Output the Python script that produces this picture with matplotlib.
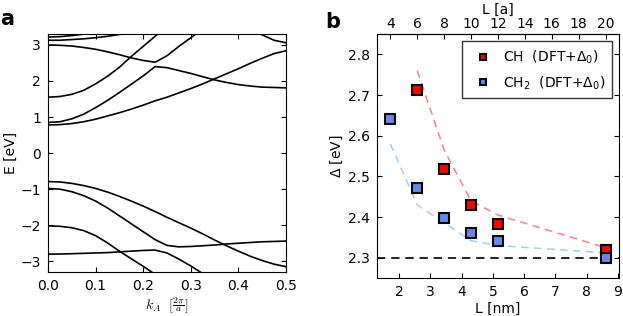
import numpy as np
import matplotlib
matplotlib.use('Agg')
import matplotlib.pyplot as plt

plt.rcParams['font.family'] = 'DejaVu Sans'
plt.rcParams['font.size'] = 10
plt.rcParams['xtick.direction'] = 'in'
plt.rcParams['ytick.direction'] = 'in'
plt.rcParams['xtick.top'] = True
plt.rcParams['ytick.right'] = True
plt.rcParams['xtick.major.size'] = 3.5
plt.rcParams['ytick.major.size'] = 3.5
plt.rcParams['xtick.major.pad'] = 5
plt.rcParams['ytick.major.pad'] = 5

# ---- panel a: band structure ----
k = [0.0, 0.025, 0.05, 0.075, 0.1, 0.125, 0.15, 0.175, 0.2, 0.225, 0.25,
     0.275, 0.3, 0.325, 0.35, 0.375, 0.4, 0.425, 0.45, 0.475, 0.5]

# conduction side
c1 = [0.78, 0.79, 0.82, 0.87, 0.94, 1.03, 1.12, 1.22, 1.33, 1.45, 1.55,
      1.67, 1.79, 1.92, 2.06, 2.20, 2.34, 2.49, 2.63, 2.76, 2.84]
c2 = [0.85, 0.87, 0.95, 1.08, 1.26, 1.46, 1.68, 1.91, 2.14, 2.40, 2.37,
      2.29, 2.21, 2.12, 2.03, 1.96, 1.90, 1.86, 1.83, 1.82, 1.81]
c3 = [1.55, 1.57, 1.63, 1.74, 1.92, 2.13, 2.38, 2.68, 2.96, 3.24, 3.52]
c4 = [3.00, 2.99, 2.97, 2.93, 2.88, 2.81, 2.73, 2.64, 2.57, 2.52, 2.70,
      2.96, 3.20, 3.44]
t1 = [3.22, 3.23, 3.26, 3.30, 3.35]
t2 = [3.13, 3.13, 3.15, 3.17, 3.20, 3.24, 3.29, 3.34]
k_t3 = [0.425, 0.45, 0.475, 0.5]
t3 = [3.38, 3.28, 3.13, 3.06]

# valence side
v1 = [-0.79, -0.80, -0.84, -0.90, -0.98, -1.08, -1.20, -1.33, -1.47, -1.62, -1.78,
      -1.93, -2.08, -2.24, -2.41, -2.57, -2.72, -2.86, -2.98, -3.08, -3.15]
v2 = [-0.98, -1.00, -1.07, -1.18, -1.33, -1.52, -1.74, -1.96, -2.18, -2.40, -2.56,
      -2.60, -2.59, -2.57, -2.55, -2.52, -2.50, -2.48, -2.46, -2.45, -2.44]
v3 = [-2.02, -2.03, -2.07, -2.15, -2.29, -2.49, -2.72, -2.93, -3.14, -3.36, -3.58]
v4 = [-2.80, -2.80, -2.79, -2.78, -2.77, -2.76, -2.74, -2.72, -2.70, -2.69, -2.77,
      -2.94, -3.13, -3.34, -3.55]

bands = [c1, c2, c3, c4, t1, t2, v1, v2, v3, v4]

# ---- panel b: gap vs length ----
a_nm = 0.43
L_CH = [6, 8, 10, 12, 20]          # in units of a
gap_CH = [2.713, 2.519, 2.429, 2.382, 2.320]
fit_CH = [2.760, 2.565, 2.440, 2.405, 2.325]
L_CH2 = [4, 6, 8, 10, 12, 20]
gap_CH2 = [2.642, 2.471, 2.398, 2.362, 2.340, 2.299]
fit_CH2 = [2.580, 2.430, 2.386, 2.342, 2.330, 2.312]
gap_bulk = 2.3

fig = plt.figure(figsize=(6.23, 3.16), dpi=100)

ax1 = fig.add_axes([0.077, 0.139, 0.382, 0.753])
for b in bands:
    ax1.plot(k[:len(b)], b, color='k', lw=1.2)
ax1.plot(k_t3, t3, color='k', lw=1.2)
ax1.set_xlim(0, 0.5)
ax1.set_ylim(-3.3, 3.3)
ax1.set_xticks(np.arange(0, 0.51, 0.1))
ax1.set_xticklabels(['0.0', '0.1', '0.2', '0.3', '0.4', '0.5'])
ax1.set_yticks(range(-3, 4))
ax1.set_yticklabels(['\u22123', '\u22122', '\u22121', '0', '1', '2', '3'])
ax1.set_ylabel('E [eV]', labelpad=2)
ax1.set_xlabel(r'$k_A\ \ [\frac{2\pi}{a}]$', math_fontfamily='cm', labelpad=2)

ax2 = fig.add_axes([0.605, 0.120, 0.3885, 0.772])
Lnm_CH = [l * a_nm for l in L_CH]
Lnm_CH2 = [l * a_nm for l in L_CH2]
ax2.axhline(gap_bulk, color='k', ls=(0, (5, 3.5)), lw=1.2, zorder=1)
ax2.plot(Lnm_CH, fit_CH, color='#ff8080', ls=(0, (5, 3.5)), lw=1.1, zorder=1)
ax2.plot(Lnm_CH2, fit_CH2, color='#99d0ff', ls=(0, (5, 3.5)), lw=1.1, zorder=1)
ax2.plot(Lnm_CH, gap_CH, 's', color='#ff0000', mec='k', mew=1.5, ms=6.5,
         label=r'CH  (DFT+$\Delta_0$)', zorder=3)
ax2.plot(Lnm_CH2, gap_CH2, 's', color='#6688ee', mec='k', mew=1.5, ms=6.5,
         label=r'CH$_2$  (DFT+$\Delta_0$)', zorder=3)
ax2.set_xlim(3 * a_nm, 21 * a_nm)
ax2.set_ylim(2.25, 2.85)
ax2.set_yticks([2.3, 2.4, 2.5, 2.6, 2.7, 2.8])
ax2.set_xticks(range(2, 10))
ax2.set_xlabel('L [nm]', labelpad=2)
ax2.set_ylabel(r'$\Delta$ [eV]', labelpad=2)
ax2.tick_params(top=False)
leg = ax2.legend(loc='upper right', bbox_to_anchor=(0.97, 0.97), borderaxespad=0,
                 numpoints=1, markerscale=0.75, fontsize=10, fancybox=False,
                 handletextpad=0.4, borderpad=0.5, labelspacing=0.6)
leg.get_frame().set_edgecolor('k')
leg.get_frame().set_linewidth(1.0)

top = ax2.secondary_xaxis('top', functions=(lambda x: x / a_nm, lambda x: x * a_nm))
top.set_xticks(range(4, 21, 2))
top.tick_params(direction='in', pad=2.5)
top.set_xlabel('L [a]', labelpad=2)

fig.text(0.0, 1 - 25 / 316, 'a', fontsize=15, fontweight='bold')
fig.text(325 / 623, 1 - 28 / 316, 'b', fontsize=15, fontweight='bold')

fig.savefig('out.png', dpi=100)
